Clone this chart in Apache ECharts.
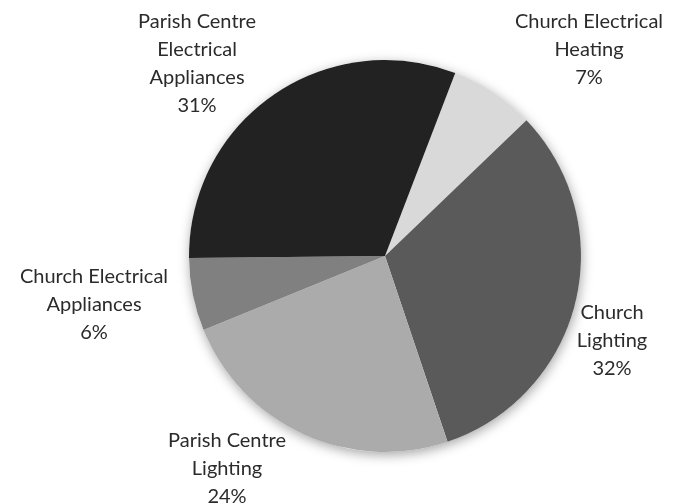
<!DOCTYPE html>
<html>
<head>
<meta charset="utf-8">
<script src="https://cdn.jsdelivr.net/npm/echarts@6/dist/echarts.min.js"></script>
<style>
  html, body { margin: 0; padding: 0; background: #ffffff; }
  #chart { width: 681px; height: 504px; }
</style>
</head>
<body>
<div id="chart"></div>
<script>
// Energy use breakdown (share of total, %)
var categories = [
  'Church Electrical\nHeating',
  'Church\nLighting',
  'Parish Centre\nLighting',
  'Church Electrical\nAppliances',
  'Parish Centre\nElectrical\nAppliances'
];
var shares = [7, 32, 24, 6, 31];

// Slice fills, in category order
var sliceColors = ['#d9d9d9', '#5a5a5a', '#ababab', '#808080', '#222222'];

// Label block centres (px), in category order
var labelCentres = [[589, 50], [612, 341], [227, 469], [94, 305], [197, 64]];

var total = shares.reduce(function (a, b) { return a + b; }, 0);

var chart = echarts.init(document.getElementById('chart'), null, { renderer: 'canvas' });

chart.setOption({
  backgroundColor: '#ffffff',
  animation: false,
  series: [
    {
      // soft shadow beneath the whole disc
      type: 'pie',
      silent: true,
      center: [385, 256],
      radius: 196,
      label: { show: false },
      labelLine: { show: false },
      itemStyle: {
        color: '#ffffff',
        shadowBlur: 12,
        shadowColor: 'rgba(0,0,0,0.35)',
        shadowOffsetX: 1,
        shadowOffsetY: 3
      },
      data: [{ value: total, name: 'all' }]
    },
    {
      type: 'pie',
      center: [385, 256],
      radius: 196,
      startAngle: 69,
      clockwise: true,
      avoidLabelOverlap: false,
      itemStyle: { borderWidth: 0 },
      label: {
        show: true,
        position: 'outside',
        formatter: function (p) {
          return p.name + '\n' + Math.round(p.value / total * 100) + '%';
        },
        fontFamily: 'Lato',
        fontSize: 20,
        lineHeight: 28,
        color: '#2b2b2b',
        align: 'center'
      },
      labelLine: { show: false },
      labelLayout: function (params) {
        var c = labelCentres[params.dataIndex];
        return { x: c[0], y: c[1], align: 'center', verticalAlign: 'middle' };
      },
      data: categories.map(function (name, i) {
        return { name: name, value: shares[i], itemStyle: { color: sliceColors[i] } };
      })
    }
  ]
});
</script>
</body>
</html>
